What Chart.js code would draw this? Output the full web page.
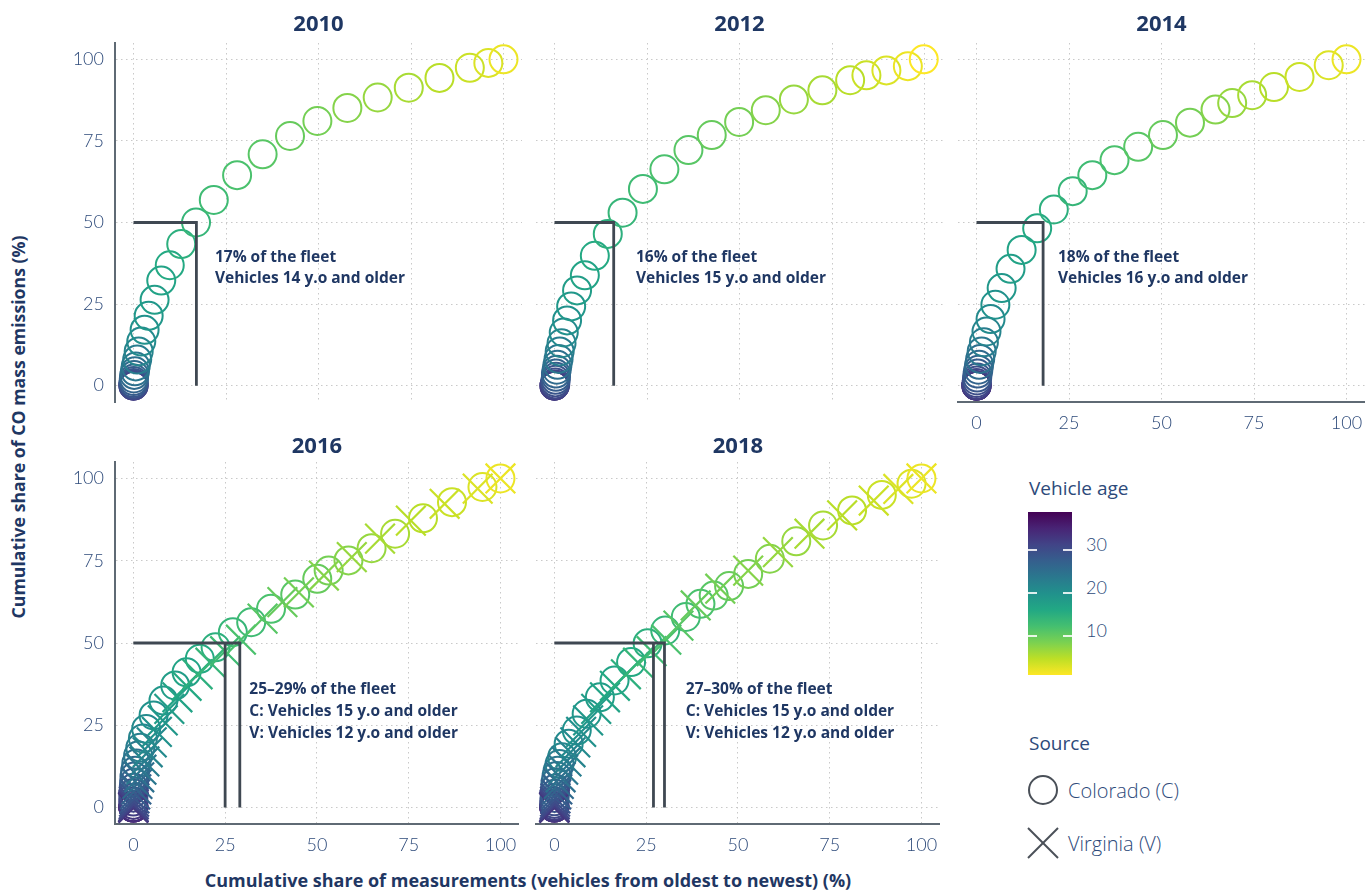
<!DOCTYPE html>
<html lang="en">
<head>
<meta charset="UTF-8">
<title>Cumulative share of CO mass emissions</title>
<script src="https://cdn.jsdelivr.net/npm/chart.js"></script>
<style>
  body {
    margin: 0;
    width: 1365px;
    height: 893px;
    overflow: hidden;
    background: #fff;
    position: relative;
    font-family: "Open Sans", Lato, sans-serif;
    color: #1f3763;
  }
  canvas { position: absolute; }
  .axis-title {
    position: absolute;
    white-space: nowrap;
    font-weight: bold;
    font-size: 18px;
    color: #1f3763;
  }
  .ytitle { left: 18px; top: 427px; font-size: 17.7px; transform: translate(-50%, -50%) rotate(-90deg); }
  .xtitle { left: 528px; top: 880px; transform: translate(-50%, -50%); }
  .lg { position: absolute; white-space: nowrap; color: #2d4a7a; transform: translateY(-50%); }
  .lg-head { font-size: 19px; font-weight: 400; }
  .lg-tick { font-family: Lato, sans-serif; font-size: 18px; font-weight: 300; }
  .lg-item { font-size: 20px; font-weight: 300; }
  .cbar {
    position: absolute; left: 1028px; top: 512px; width: 44px; height: 163px;
    background: linear-gradient(to bottom, #440154, #482475, #414487, #355f8d, #2a788e, #21918c, #22a884, #44bf70, #7ad151, #bddf26, #fde725);
  }
  .cmark { position: absolute; height: 1.5px; width: 9px; background: rgba(255,255,255,0.85); }
</style>
</head>
<body>

<div class="axis-title ytitle">Cumulative share of CO mass emissions (%)</div>
<div class="axis-title xtitle">Cumulative share of measurements (vehicles from oldest to newest) (%)</div>

<!-- legend: vehicle age -->
<div class="lg lg-head" style="left:1029px; top:488px;">Vehicle age</div>
<div class="cbar"></div>
<div class="cmark" style="left:1028px; top:549px;"></div><div class="cmark" style="left:1063px; top:549px;"></div>
<div class="cmark" style="left:1028px; top:592px;"></div><div class="cmark" style="left:1063px; top:592px;"></div>
<div class="cmark" style="left:1028px; top:635px;"></div><div class="cmark" style="left:1063px; top:635px;"></div>
<div class="lg lg-tick" style="left:1086px; top:544px;">30</div>
<div class="lg lg-tick" style="left:1086px; top:587px;">20</div>
<div class="lg lg-tick" style="left:1086px; top:630px;">10</div>

<!-- legend: source -->
<div class="lg lg-head" style="left:1029px; top:743px;">Source</div>
<svg style="position:absolute; left:1025px; top:773px;" width="36" height="36">
  <circle cx="18" cy="17" r="14" fill="none" stroke="#4a5058" stroke-width="2"/>
</svg>
<div class="lg lg-item" style="left:1068px; top:790px;">Colorado (C)</div>
<svg style="position:absolute; left:1025px; top:825px;" width="36" height="36">
  <line x1="3" y1="3" x2="33" y2="33" stroke="#4a5058" stroke-width="2"/>
  <line x1="33" y1="3" x2="3" y2="33" stroke="#4a5058" stroke-width="2"/>
</svg>
<div class="lg lg-item" style="left:1068px; top:843px;">Virginia (V)</div>

<canvas id="c2010" width="487" height="442"></canvas>
<canvas id="c2012" width="487" height="442"></canvas>
<canvas id="c2014" width="487" height="442"></canvas>
<canvas id="c2016" width="487" height="437"></canvas>
<canvas id="c2018" width="487" height="437"></canvas>

<script>
  // tick values (both axes)
  const tickValues = [0, 25, 50, 75, 100];

  // Colorado 2010 (oldest -> newest)
  const coX2010 = [0, 0, 0, 0, 0, 0.05, 0.1, 0.2, 0.4, 0.6, 1.0, 1.4, 2.1, 3.0, 4.1, 5.7, 7.5, 9.8, 12.9, 16.9, 21.7, 28.0, 34.9, 42.3, 49.7, 57.8, 66.0, 74.4, 82.7, 90.9, 95.9, 100];
  const coY2010 = [0, 0, 0.1, 0.4, 0.8, 1.4, 2.2, 3.3, 4.4, 5.9, 8.0, 10.5, 13.5, 17.1, 21.4, 26.3, 32.2, 36.9, 43.4, 50.0, 56.9, 64.5, 70.9, 76.5, 81.1, 85.1, 88.3, 91.3, 94.3, 97.4, 98.9, 100];
  const coAge2010 = [33, 32, 31, 30, 29, 28, 27, 26, 25, 24, 23, 22, 21, 20, 19, 18, 17, 16, 15, 14, 13, 12, 11, 10, 9, 8, 7, 6, 5, 4, 3, 2];

  // Colorado 2012
  const coX2012 = [0, 0, 0, 0.2, 0.2, 0.3, 0.4, 0.4, 0.6, 0.8, 1.1, 1.4, 1.9, 2.5, 3.4, 4.5, 6.1, 8.2, 10.9, 14.4, 18.4, 23.9, 29.7, 36.2, 42.5, 49.9, 57.1, 64.7, 72.4, 79.9, 84.3, 89.7, 95.5, 99.8];
  const coY2012 = [0, 0, 0, 0.4, 1.0, 1.8, 2.7, 3.7, 4.9, 6.4, 8.2, 10.5, 13.0, 16.3, 20.0, 24.3, 29.2, 33.8, 39.8, 46.5, 53.0, 60.3, 66.3, 72.2, 76.8, 80.8, 84.4, 87.7, 90.5, 93.6, 95.1, 96.6, 97.9, 100];
  const coAge2012 = [34, 33, 32, 31, 30, 29, 28, 27, 26, 25, 24, 23, 22, 21, 20, 19, 18, 17, 16, 15, 14, 13, 12, 11, 10, 9, 8, 7, 6, 5, 4, 3, 2, 1];

  // Colorado 2014
  const coX2014 = [0, 0, 0, 0, 0, 0, 0.1, 0.2, 0.3, 0.5, 0.7, 1.0, 1.4, 2.0, 2.7, 3.8, 5.1, 6.8, 9.2, 12.2, 16.4, 20.9, 26.0, 31.3, 37.3, 43.7, 50.4, 57.7, 64.6, 69.1, 74.5, 80.4, 87.3, 95.2, 100];
  const coY2014 = [0, 0, 0, 0, 0.2, 0.8, 1.6, 2.5, 3.7, 4.9, 6.4, 8.2, 10.5, 13.3, 16.6, 20.4, 24.8, 29.9, 35.8, 41.6, 48.2, 54.0, 59.6, 64.5, 69.1, 73.2, 76.8, 80.6, 84.6, 86.6, 89.0, 91.5, 94.6, 98.2, 100];
  const coAge2014 = [36, 35, 34, 33, 32, 31, 30, 29, 28, 27, 26, 25, 24, 23, 22, 21, 20, 19, 18, 17, 16, 15, 14, 13, 12, 11, 10, 9, 8, 7, 6, 5, 4, 3, 2];

  // Colorado 2016
  const coX2016 = [0, 0, 0, 0, 0, 0, 0, 0, 0.1, 0.2, 0.3, 0.5, 0.8, 1.3, 1.9, 2.6, 3.5, 5.5, 8.2, 11.4, 14.5, 18.1, 22.4, 27.1, 32.1, 37.5, 44.1, 50.1, 53.2, 58.6, 64.9, 71.3, 78.9, 86.8, 95.1, 100];
  const coY2016 = [0, 0, 0, 0, 0.8, 1.8, 3.0, 4.4, 6.0, 7.6, 9.4, 11.2, 13.4, 15.8, 18.2, 21.0, 23.9, 28.0, 32.5, 37.1, 41.1, 45.2, 48.7, 53.3, 56.3, 60.4, 64.7, 69.5, 72.0, 75.1, 78.8, 83.2, 87.9, 92.8, 97.4, 100];
  const coAge2016 = [37, 36, 35, 34, 33, 32, 31, 30, 29, 28, 27, 26, 25, 24, 23, 22, 21, 20, 19, 18, 17, 16, 15, 14, 13, 12, 11, 10, 9, 8, 7, 6, 5, 4, 3, 2];

  // Virginia 2016
  const vaX2016 = [0, 0, 0, 0, 0.1, 0.2, 0.3, 0.5, 0.8, 1.1, 1.6, 2.2, 3.0, 3.9, 5.0, 6.4, 8.0, 9.8, 12.0, 14.5, 17.5, 21.0, 25.0, 29.3, 35.2, 40.6, 45.1, 51.9, 59.5, 67.2, 75.6, 84.8, 93.8, 100];
  const vaY2016 = [0, 0, 0, 0.4, 1.0, 1.8, 2.8, 4.0, 5.5, 7.2, 9.2, 11.5, 14.0, 16.8, 19.8, 23.0, 26.5, 30.0, 33.5, 37.0, 40.5, 44.0, 47.5, 51.0, 57.4, 62.4, 65.4, 70.5, 76.1, 81.7, 87.2, 92.3, 96.9, 100];
  const vaAge2016 = [35, 34, 33, 32, 31, 30, 29, 28, 27, 26, 25, 24, 23, 22, 21, 20, 19, 18, 17, 16, 15, 14, 13, 12, 11, 10, 9, 8, 7, 6, 5, 4, 3, 2];

  // Colorado 2018
  const coX2018 = [0, 0, 0, 0, 0, 0, 0, 0.05, 0.1, 0.2, 0.3, 0.6, 0.9, 1.4, 2.1, 3.9, 6.1, 8.8, 12.4, 16.4, 20.9, 25.4, 30.2, 35.8, 39.8, 43.4, 47.6, 52.8, 58.7, 65.9, 73.2, 81.1, 89.2, 97.3, 100];
  const coY2018 = [0, 0, 0, 0, 0.5, 1.1, 1.9, 2.9, 4.2, 5.8, 7.7, 9.6, 11.2, 13.2, 15.3, 19.4, 23.4, 28.5, 33.5, 38.6, 44.2, 49.9, 53.8, 57.9, 61.9, 64.4, 67.3, 71.0, 75.6, 80.9, 85.7, 90.3, 95.0, 98.4, 100];
  const coAge2018 = [36, 35, 34, 33, 32, 31, 30, 29, 28, 27, 26, 25, 24, 23, 22, 21, 20, 19, 18, 17, 16, 15, 14, 13, 12, 11, 10, 9, 8, 7, 6, 5, 4, 3, 2];

  // Virginia 2018
  const vaX2018 = [0, 0, 0, 0, 0.1, 0.2, 0.3, 0.5, 0.8, 1.2, 1.7, 2.4, 3.3, 4.4, 5.7, 7.3, 9.2, 11.4, 13.8, 16.5, 19.5, 22.8, 26.5, 30.5, 33.8, 38.5, 45.2, 52.8, 60.9, 69.5, 78.4, 87.0, 93.7, 100];
  const vaY2018 = [0, 0, 0, 0.4, 1.0, 1.8, 2.8, 4.0, 5.5, 7.2, 9.2, 11.5, 14.0, 16.8, 19.8, 23.0, 26.5, 30.0, 33.5, 37.0, 40.5, 44.0, 47.5, 51.0, 55.3, 61.4, 66.5, 72.0, 77.6, 83.2, 88.8, 93.3, 96.8, 100];
  const vaAge2018 = [35, 34, 33, 32, 31, 30, 29, 28, 27, 26, 25, 24, 23, 22, 21, 20, 19, 18, 17, 16, 15, 14, 13, 12, 11, 10, 9, 8, 7, 6, 5, 4, 3, 2];

  // reference lines (fleet share reaching 50% of emissions)
  const ref2010 = [[[0, 50], [17, 50], [17, 0]]];
  const ref2012 = [[[0, 50], [16, 50], [16, 0]]];
  const ref2014 = [[[0, 50], [18, 50], [18, 0]]];
  const ref2016 = [[[0, 50], [29, 50], [29, 0]], [[25, 50], [25, 0]]];
  const ref2018 = [[[0, 50], [30, 50], [30, 0]], [[27, 50], [27, 0]]];

  const note2010 = ['17% of the fleet', 'Vehicles 14 y.o and older'];
  const note2012 = ['16% of the fleet', 'Vehicles 15 y.o and older'];
  const note2014 = ['18% of the fleet', 'Vehicles 16 y.o and older'];
  const note2016 = ['25\u201329% of the fleet', 'C: Vehicles 15 y.o and older', 'V: Vehicles 12 y.o and older'];
  const note2018 = ['27\u201330% of the fleet', 'C: Vehicles 15 y.o and older', 'V: Vehicles 12 y.o and older'];

  // viridis colour scale for vehicle age
  const ageMin = 1, ageMax = 39;
  const viridisStops = ['#440154', '#482475', '#414487', '#355f8d', '#2a788e', '#21918c', '#22a884', '#44bf70', '#7ad151', '#bddf26', '#fde725'];
  function hexRgb(h) { return [1, 3, 5].map(i => parseInt(h.substr(i, 2), 16)); }
  function ageColor(age) {
    let t = (ageMax - age) / (ageMax - ageMin);
    t = Math.max(0, Math.min(1, t)) * 10;
    const i = Math.min(9, Math.floor(t)), f = t - i;
    const a = hexRgb(viridisStops[i]), b = hexRgb(viridisStops[i + 1]);
    const c = a.map((v, k) => Math.round(v + (b[k] - v) * f));
    return 'rgb(' + c.join(',') + ')';
  }

  const NAVY = '#1f3763';
  const TICK = '#2d4a7a';
  const FONT = '"Open Sans", Lato, sans-serif';
  const TICKFONT = 'Lato, "Open Sans", sans-serif';

  const notePlugin = {
    id: 'note',
    afterDatasetsDraw(chart, args, opts) {
      if (!opts.lines) return;
      const ctx = chart.ctx;
      const x = chart.scales.x.getPixelForValue(opts.x);
      const y = chart.scales.y.getPixelForValue(opts.y);
      ctx.save();
      ctx.font = 'bold 15.5px ' + FONT;
      ctx.fillStyle = NAVY;
      ctx.textBaseline = 'middle';
      ctx.textAlign = 'left';
      for (let i = 0; i < opts.lines.length; i++) {
        ctx.fillText(opts.lines[i], x, y + i * 21.8);
      }
      ctx.restore();
    }
  };

  function toPoints(xs, ys) { return xs.map((x, i) => ({ x: x, y: ys[i] })); }

  const panels = [
    { id: 'c2010', title: '2010', left: 115, row: 0, yTicks: true,  xTicks: false, co: [coX2010, coY2010, coAge2010], ref: ref2010, note: note2010, noteAt: [22, 39.4] },
    { id: 'c2012', title: '2012', left: 536, row: 0, yTicks: false, xTicks: false, co: [coX2012, coY2012, coAge2012], ref: ref2012, note: note2012, noteAt: [22, 39.4] },
    { id: 'c2014', title: '2014', left: 958, row: 0, yTicks: false, xTicks: true,  co: [coX2014, coY2014, coAge2014], ref: ref2014, note: note2014, noteAt: [22, 39.4] },
    { id: 'c2016', title: '2016', left: 115, row: 1, yTicks: true,  xTicks: true,  co: [coX2016, coY2016, coAge2016], va: [vaX2016, vaY2016, vaAge2016], ref: ref2016, note: note2016, noteAt: [31.6, 35.7] },
    { id: 'c2018', title: '2018', left: 536, row: 1, yTicks: false, xTicks: true,  co: [coX2018, coY2018, coAge2018], va: [vaX2018, vaY2018, vaAge2018], ref: ref2018, note: note2018, noteAt: [35.8, 35.7] }
  ];

  function buildChart(p) {
    const canvas = document.getElementById(p.id);
    canvas.style.left = (p.left - 60) + 'px';
    canvas.style.top = (p.row === 0 ? 0 : 427) + 'px';

    const datasets = [];
    p.ref.forEach(path => {
      datasets.push({
        data: path.map(v => ({ x: v[0], y: v[1] })),
        showLine: true,
        borderColor: '#3f4852',
        borderWidth: 2.8,
        pointRadius: 0,
        fill: false,
        order: 0
      });
    });
    if (p.va) {
      datasets.push({
        data: toPoints(p.va[0], p.va[1]),
        pointStyle: 'crossRot',
        pointRadius: 21,
        pointBorderWidth: 2.2,
        pointBorderColor: p.va[2].map(ageColor),
        pointBackgroundColor: 'rgba(0,0,0,0)',
        clip: false,
        order: 1
      });
    }
    datasets.push({
      data: toPoints(p.co[0], p.co[1]),
      pointStyle: 'circle',
      pointRadius: 14,
      pointBorderWidth: 2,
      pointBorderColor: p.co[2].map(ageColor),
      pointBackgroundColor: 'rgba(0,0,0,0)',
      clip: false,
      order: 2
    });

    const tickFont = { family: TICKFONT, size: 18, weight: '300' };
    const gridOpts = { color: '#c9c9c9', lineWidth: 1, drawTicks: false };

    new Chart(canvas.getContext('2d'), {
      type: 'scatter',
      data: { datasets: datasets },
      options: {
        responsive: false,
        animation: false,
        events: [],
        layout: { padding: { left: 0, right: 20, top: 0, bottom: 0 } },
        plugins: {
          legend: { display: false },
          tooltip: { enabled: false },
          title: {
            display: true,
            fullSize: false,
            text: p.title,
            color: NAVY,
            font: { family: FONT, size: 22, weight: 'bold' },
            padding: p.row === 0 ? { top: 11.5, bottom: 5.1 } : { top: 6.5, bottom: 2.1 }
          },
          note: { lines: p.note, x: p.noteAt[0], y: p.noteAt[1] }
        },
        scales: {
          x: {
            type: 'linear',
            min: -5,
            max: 105,
            afterBuildTicks: s => { s.ticks = tickValues.map(v => ({ value: v })); },
            afterFit: s => { s.height = 40; },
            grid: gridOpts,
            border: { display: p.xTicks, color: '#5f6a74', width: 2, dash: [1.5, 3.5] },
            ticks: { display: p.xTicks, color: TICK, font: tickFont, padding: 10 }
          },
          y: {
            type: 'linear',
            min: -5,
            max: 105,
            afterBuildTicks: s => { s.ticks = tickValues.map(v => ({ value: v })); },
            afterFit: s => { s.width = 60; },
            grid: gridOpts,
            border: { display: p.yTicks, color: '#5f6a74', width: 2, dash: [1.5, 3.5] },
            ticks: { display: p.yTicks, color: TICK, font: tickFont, padding: 11 }
          }
        }
      },
      plugins: [notePlugin]
    });
  }

  panels.forEach(buildChart);
</script>
</body>
</html>
